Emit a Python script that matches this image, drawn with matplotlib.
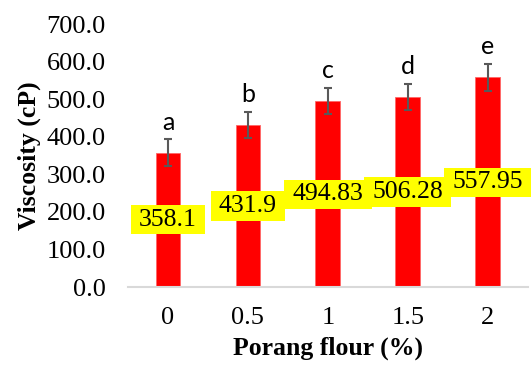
import matplotlib
matplotlib.use("Agg")
import matplotlib.pyplot as plt
from matplotlib.path import Path
import numpy as np

# Viscosity vs porang flour level
flour_levels = ["0", "0.5", "1", "1.5", "2"]
viscosity    = [358.1, 431.9, 494.83, 506.28, 557.95]
viscosity_sd = [35, 34, 35, 35, 36]
letters      = ["a", "b", "c", "d", "e"]
y_ticks      = [0, 100, 200, 300, 400, 500, 600, 700]

SERIF = "Liberation Serif"


def label_box(x0, y0, width, height, mutation_size):
    # rectangular box, wider padding left/right than top/bottom
    px = 0.32 * mutation_size
    py = 0.14 * mutation_size
    x0, y0 = x0 - px, y0 - py
    x1, y1 = x0 + width + 2 * px, y0 + height + 2 * py
    return Path([(x0, y0), (x1, y0), (x1, y1), (x0, y1), (x0, y0)], closed=True)


fig = plt.figure(figsize=(5.31, 3.70), dpi=100)
ax = fig.add_axes([0.241, 0.224, 0.753, 0.711])

x = np.arange(len(flour_levels))
ax.bar(x, viscosity, width=0.31, color="#ff0000", edgecolor="#ff6666", lw=0.6, zorder=2)
ax.errorbar(x, viscosity, yerr=viscosity_sd, fmt="none", ecolor="#595959",
            elinewidth=1.5, capsize=3, capthick=1.5, zorder=3)

# value labels in yellow boxes at mid-bar
for xi, v in zip(x, viscosity):
    ax.text(xi, v / 2, f"{v:g}", ha="center", va="center", fontsize=18.5,
            family=SERIF, zorder=4,
            bbox=dict(boxstyle=label_box, fc="#ffff00", ec="none"))

# significance letters above the error bars
for xi, v, sd, lt in zip(x, viscosity, viscosity_sd, letters):
    ax.annotate(lt, (xi, v + sd), xytext=(0, 4), textcoords="offset points",
                ha="center", va="bottom", fontsize=18, family="Lato")

ax.set_xlim(-0.5, len(x) - 0.5)
ax.set_ylim(0, 700)
ax.set_yticks(y_ticks)
ax.set_yticklabels([f"{t:.1f}" for t in y_ticks], family=SERIF, fontsize=19)
ax.set_xticks(x)
ax.set_xticklabels(flour_levels, family=SERIF, fontsize=19)
ax.tick_params(axis="y", length=0, pad=16)
ax.tick_params(axis="x", length=0, pad=14)

for side in ["left", "right", "top"]:
    ax.spines[side].set_visible(False)
ax.spines["bottom"].set_color("#d9d9d9")
ax.spines["bottom"].set_linewidth(1.5)

ax.set_ylabel("Viscosity (cP)", family=SERIF, fontsize=18.5, fontweight="bold", labelpad=4)
ax.set_xlabel("Porang flour (%)", family=SERIF, fontsize=18.5, fontweight="bold", labelpad=6)

fig.savefig("out.png", dpi=100)
